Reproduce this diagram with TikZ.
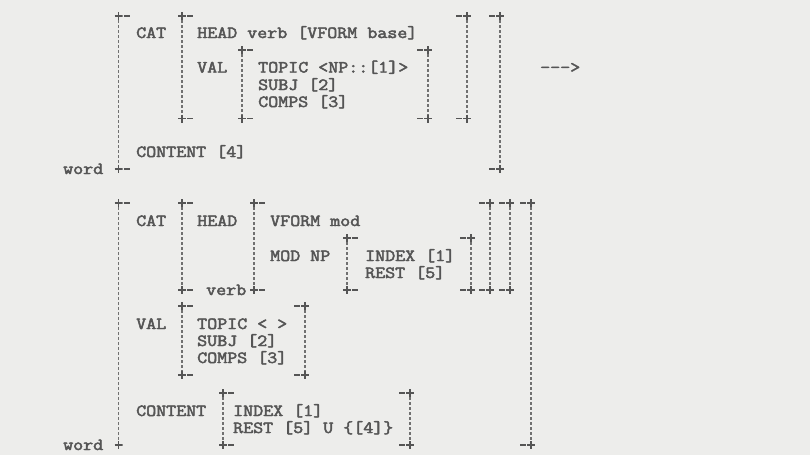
\documentclass[tikz,border=0pt]{standalone}
\usepackage{graphicx}
\definecolor{paper}{HTML}{EDEDEB}
\definecolor{ink}{HTML}{555555}
\definecolor{barc}{HTML}{707070}
\newcommand\mono[1]{\special{pdf:literal direct 2 Tr 0.45 w}\scalebox{1.143}[1]{#1}\special{pdf:literal direct 0 Tr}}
\tikzset{
  txt/.style={anchor=base west, inner sep=0pt, text=ink, font=\ttfamily\fontsize{17}{17}\selectfont},
  plus/.style={minimum size=8pt, inner sep=0pt, path picture={\draw[ink, line width=1.7pt]
      (path picture bounding box.north) -- (path picture bounding box.south)
      (path picture bounding box.west) -- (path picture bounding box.east);}},
  bar/.style={draw=barc, line width=1.8pt, dash pattern=on 3pt off 2pt},
  tick/.style={draw=ink, line width=1.6pt},
}
% left bracket: name, x, ytop, ybottom
\newcommand\lbrk[4]{%
  \node[plus] (#1t) at (#2,#3) {};
  \node[plus] (#1b) at (#2,#4) {};
  \draw[tick] ([xshift=1.2pt]#1t.east) -- ++(6,0);
  \draw[tick] ([xshift=1.2pt]#1b.east) -- ++(6,0);
  \draw[bar] (#1t.south) -- (#1b.north);}
% right bracket
\newcommand\rbrk[4]{%
  \node[plus] (#1t) at (#2,#3) {};
  \node[plus] (#1b) at (#2,#4) {};
  \draw[tick] ([xshift=-1.2pt]#1t.west) -- ++(-6,0);
  \draw[tick] ([xshift=-1.2pt]#1b.west) -- ++(-6,0);
  \draw[bar] (#1t.south) -- (#1b.north);}
\begin{document}
\begin{tikzpicture}[x=1pt,y=-1pt]
\useasboundingbox[fill=paper] (0,0) rectangle (810,455);

% ---------- first structure ----------
\lbrk{A}{118.5}{16}{169}
\rbrk{B}{500}{16}{169}
\lbrk{C}{182}{16}{118.5}
\rbrk{D}{467}{16}{118.5}
\lbrk{E}{242}{50}{118.5}
\rbrk{F}{428}{50}{118.5}

\node[txt] (cat1)   at (136,38)  {\mono{CAT}};
\node[txt] (head1)  at (197,38)  {\mono{HEAD verb [VFORM base]}};
\node[txt] (val1)   at (197,72.5) {\mono{VAL}};
\node[txt] (topic1) at (258,72.5) {\mono{TOPIC <NP::[1]>}};
\node[txt] (subj1)  at (258,90)  {\mono{SUBJ [2]}};
\node[txt] (comps1) at (258,107) {\mono{COMPS [3]}};
\node[txt] (cont1)  at (136,157) {\mono{CONTENT [4]}};
\node[txt] (word1)  at (63,174)  {\mono{word}};
\node[txt] (arrow)  at (540,72.5) {\mono{--{}->}};

% ---------- second structure ----------
\node[plus] (Gt) at (118.5,203) {};
\node[plus] (Gb) at (118.5,445) {};
\draw[tick] ([xshift=1.2pt]Gt.east) -- ++(6,0);
\draw[bar] (Gt.south) -- (Gb.north);
\rbrk{H}{531}{203}{445}
\lbrk{I}{182}{203}{290}
\rbrk{J}{510}{203}{290}
\lbrk{K}{254}{203}{290}
\rbrk{L}{490}{203}{290}
\lbrk{M}{347}{238}{290}
\rbrk{N}{471}{238}{290}
\lbrk{O}{182}{306}{375}
\rbrk{P}{305}{306}{375}
\lbrk{Q}{223}{393}{445}
\rbrk{R}{410}{393}{445}

\node[txt] (cat2)   at (136,226) {\mono{CAT}};
\node[txt] (head2)  at (197,226) {\mono{HEAD}};
\node[txt] (vform2) at (270,226) {\mono{VFORM mod}};
\node[txt] (mod2)   at (270,261) {\mono{MOD NP}};
\node[txt] (index2) at (365,261) {\mono{INDEX [1]}};
\node[txt] (rest2)  at (365,278) {\mono{REST [5]}};
\node[txt] (verb2)  at (206,295) {\mono{verb}};
\node[txt] (val2)   at (136,329) {\mono{VAL}};
\node[txt] (topic2) at (197,329) {\mono{TOPIC < >}};
\node[txt] (subj2)  at (197,346) {\mono{SUBJ [2]}};
\node[txt] (comps2) at (197,363) {\mono{COMPS [3]}};
\node[txt] (cont2)  at (136,416) {\mono{CONTENT}};
\node[txt] (index3) at (233,416) {\mono{INDEX [1]}};
\node[txt] (rest3)  at (233,433) {\mono{REST [5] U \{[4]\}}};
\node[txt] (word2)  at (63,450)  {\mono{word}};
\end{tikzpicture}
\end{document}
